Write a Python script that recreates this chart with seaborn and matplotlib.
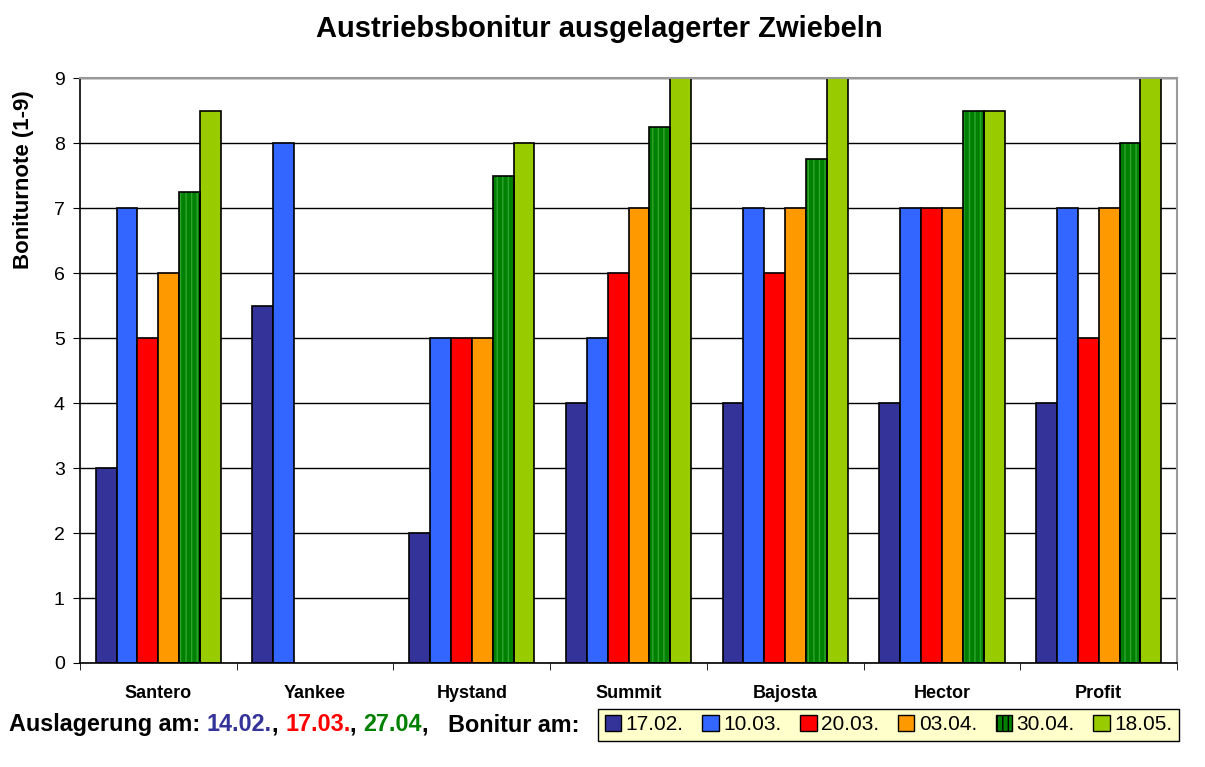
import matplotlib
matplotlib.use("Agg")
import matplotlib.pyplot as plt
import numpy as np
import pandas as pd
import seaborn as sns
from matplotlib.patches import Patch, Rectangle
from matplotlib.offsetbox import TextArea, HPacker, AnchoredOffsetbox

# Data
sorten = ["Santero", "Yankee", "Hystand", "Summit", "Bajosta", "Hector", "Profit"]
termine = ["17.02.", "10.03.", "20.03.", "03.04.", "30.04.", "18.05."]
b_1702 = [3, 5.5, 2, 4, 4, 4, 4]
b_1003 = [7, 8, 5, 5, 7, 7, 7]
b_2003 = [5, np.nan, 5, 6, 6, 7, 5]
b_0304 = [6, np.nan, 5, 7, 7, 7, 7]
b_3004 = [7.25, np.nan, 7.5, 8.25, 7.75, 8.5, 8]
b_1805 = [8.5, np.nan, 8, 9, 9, 8.5, 9]
farben = ["#333399", "#3366FF", "#FF0000", "#FF9900", "#008000", "#99CC00"]

werte = [b_1702, b_1003, b_2003, b_0304, b_3004, b_1805]
df = pd.DataFrame({
    "Sorte": sorten * len(termine),
    "Termin": [t for t in termine for _ in sorten],
    "Note": [v for w in werte for v in w],
})

sns.set_style("white")
plt.rcParams["font.family"] = ["Liberation Sans", "DejaVu Sans"]
for k in ["text.color", "axes.labelcolor", "xtick.color", "ytick.color"]:
    plt.rcParams[k] = "black"

fig = plt.figure(figsize=(12.05, 7.67), dpi=100)
ax = fig.add_axes([0.0664, 0.1356, 0.9104, 0.7624])

sns.barplot(data=df, x="Sorte", y="Note", hue="Termin", hue_order=termine,
            palette=farben, order=sorten, saturation=1, width=0.8,
            edgecolor="black", linewidth=1.2, ax=ax, legend=False, errorbar=None)

# hatched dark green bars
for bar in ax.containers[4]:
    if np.isnan(bar.get_height()):
        continue
    bar.set_edgecolor("#2FA52F")
    bar.set_hatch("|||")
    bar.set_linewidth(0)
    ax.add_patch(Rectangle(bar.get_xy(), bar.get_width(), bar.get_height(),
                           fill=False, edgecolor="black", linewidth=1.2, zorder=bar.get_zorder() + 0.1))

ax.set_xlim(-0.5, 6.5)
ax.set_ylim(0, 9)
ax.set_yticks(range(10))
ax.yaxis.grid(True, color="black", linewidth=1)
ax.set_axisbelow(True)
ax.tick_params(axis="y", labelsize=14, length=5, direction="out", left=True, pad=6)
ax.set_xticks(range(len(sorten)))
ax.set_xticklabels(sorten, fontweight="bold", fontsize=13)
ax.set_xticks(np.arange(-0.5, 7, 1), minor=True)
ax.tick_params(axis="x", which="major", length=0, pad=16)
ax.tick_params(axis="x", which="minor", length=5, bottom=True)
ax.set_xlabel("")
ax.set_ylabel("Boniturnote (1-9)", fontweight="bold", fontsize=16)
ax.yaxis.set_label_coords(-0.042, 0.827)
for s in ["left", "bottom"]:
    ax.spines[s].set_color("black")
    ax.spines[s].set_linewidth(1.2)
for s in ["top", "right"]:
    ax.spines[s].set_color("#999999")
    ax.spines[s].set_linewidth(1.5)

fig.text(0.497, 0.962, "Austriebsbonitur ausgelagerter Zwiebeln", fontweight="bold", fontsize=21,
         ha="center", va="center")

# bottom text
teile = [("Auslagerung am: ", "black"), ("14.02.", "#333399"), (", ", "black"),
         ("17.03.", "#FF0000"), (", ", "black"), ("27.04", "#008000"),
         (",   Bonitur am:", "black")]
boxen = [TextArea(t, textprops=dict(color=c, fontweight="bold", fontsize=16.8)) for t, c in teile]
pack = HPacker(children=boxen, align="baseline", pad=0, sep=0)
anch = AnchoredOffsetbox(loc="center left", child=pack, frameon=False,
                         bbox_to_anchor=(0.003, 0.055), bbox_transform=fig.transFigure, borderpad=0)
fig.add_artist(anch)

handles = [Patch(facecolor=f, edgecolor="black", hatch="|||" if i == 4 else None)
           for i, f in enumerate(farben)]
leg = fig.legend(handles, termine, ncol=6, loc="center left", bbox_to_anchor=(0.488, 0.055),
                 frameon=True, fancybox=False, edgecolor="black", facecolor="#FFFFCC",
                 fontsize=15, handlelength=0.8, handleheight=0.8, handletextpad=0.2,
                 columnspacing=0.9, borderpad=0.3, framealpha=1)
leg.get_frame().set_linewidth(1)

fig.savefig("out.png", dpi=100)
